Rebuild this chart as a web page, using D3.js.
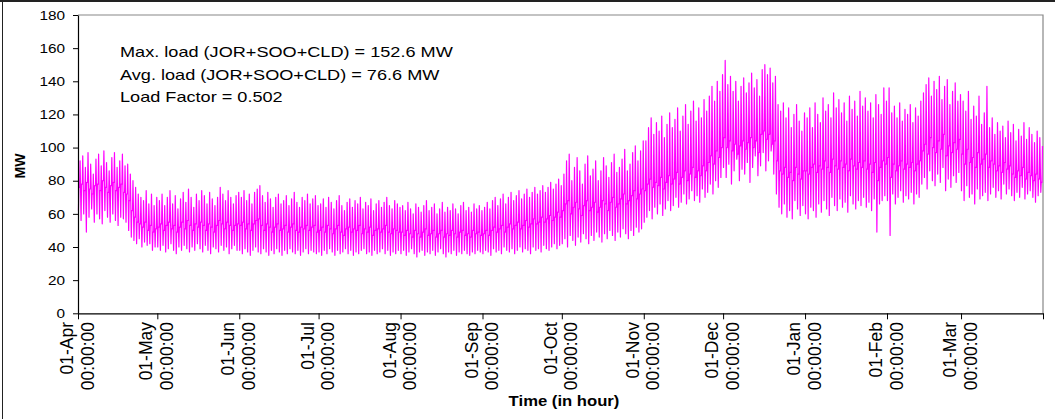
<!DOCTYPE html>
<html><head><meta charset="utf-8">
<script src="https://cdn.jsdelivr.net/npm/d3@7"></script>
<style>body{margin:0;background:#fff}svg{display:block}text{font-family:"Liberation Sans",Arial,sans-serif;fill:#000}</style>
</head><body><svg id="c" width="1055" height="419"></svg>
<script>
const monthLabels = ["01-Apr","01-May","01-Jun","01-Jul","01-Aug","01-Sep","01-Oct","01-Nov","01-Dec","01-Jan","01-Feb","01-Mar"];
const monthDays = [30,31,30,31,31,30,31,30,31,31,28,31];
const yTicks = [0,20,40,60,80,100,120,140,160,180];
const notes = ["Max. load (JOR+SOO+CLD) = 152.6 MW","Avg. load (JOR+SOO+CLD) = 76.6 MW","Load Factor = 0.502"];

// daily peak (MW), month by month
const maxApr = [92,95,88,97,90,84,93,96,89,98,91,86,94,97,88,92,96,89,90,84,80,76,72,70,68,74,66,72,65,70];
const maxMay = [68,72,65,70,74,66,71,63,69,73,67,75,70,64,72,68,74,71,66,73,69,65,70,76,72,68,74,70,66,71,73];
const maxJun = [70,74,68,72,66,73,75,77,71,67,73,69,64,70,72,66,68,71,65,69,73,67,64,70,68,72,66,69,71,65];
const maxJul = [66,69,64,70,67,63,68,71,65,62,67,69,64,68,66,70,63,67,65,69,62,66,68,64,67,70,65,63,68,66,64];
const maxAug = [65,62,67,63,60,66,64,61,65,68,62,64,66,60,63,67,61,64,62,66,63,60,65,67,62,64,61,66,63,65,62];
const maxSep = [64,67,63,68,70,65,69,72,66,70,73,68,71,74,69,72,75,70,73,76,72,74,77,73,76,79,75,78,81,77];
const maxOct = [84,92,96,80,88,94,86,78,90,95,83,87,92,80,86,94,89,82,91,96,85,88,93,99,86,90,97,101,92,98,104];
const maxNov = [104,112,118,108,115,110,119,106,114,121,112,117,124,110,119,126,114,122,128,116,124,118,129,122,131,137,128,140,134,144];
const maxDec = [152.6,138,143,134,140,128,137,142,133,139,145,136,141,131,147,150,144,148,139,143,126,122,127,118,124,112,120,126,116,110,121];
const maxJan = [118,124,112,127,120,115,130,122,126,118,133,124,129,121,127,116,131,123,128,119,134,125,130,122,127,118,132,126,120,136,128];
const maxFeb = [136,121,125,118,127,116,123,120,126,115,124,119,128,133,138,142,131,140,135,143,129,137,141,126,134,139,128,132];
const maxMar = [128,122,134,117,125,119,131,114,121,137,112,118,108,115,110,113,106,116,109,114,104,111,107,115,105,112,108,103,110,106,101];

// daily daytime level (MW), month by month
const midApr = [76,78,74,79,75,72,77,78,74,80,76,73,77,79,74,76,78,73,72,68,62,58,55,54,52,55,50,53,49,51];
const midMay = [52,54,50,53,55,51,53,49,52,55,51,56,53,50,54,52,55,53,50,54,52,49,53,56,54,51,55,53,50,53,54];
const midJun = [53,55,51,54,50,54,56,57,53,50,54,52,49,52,54,50,51,53,49,52,54,50,49,52,51,53,50,52,53,49];
const midJul = [50,52,49,53,51,48,51,53,49,47,51,52,49,51,50,53,48,51,49,52,47,50,51,49,51,53,49,48,51,50,49];
const midAug = [49,47,50,48,46,50,48,46,49,51,47,48,50,46,48,50,46,48,47,50,48,46,49,50,47,48,46,50,48,49,47];
const midSep = [48,50,47,50,52,49,51,53,49,52,54,51,53,55,51,53,56,52,54,57,54,55,58,55,57,59,56,58,61,58];
const midOct = [62,66,68,60,64,67,63,59,65,68,62,64,67,61,64,68,66,62,67,70,64,66,69,72,66,68,71,74,69,72,75];
const midNov = [74,78,81,76,79,77,82,75,79,83,78,81,85,78,82,86,80,84,88,82,86,83,89,86,91,95,90,98,94,100];
const midDec = [106,100,104,98,102,96,101,104,99,103,106,100,104,97,108,110,105,108,102,104,92,86,84,88,82,85,80,88,84,81,86];
const midJan = [86,84,88,90,85,89,87,92,88,85,93,89,87,92,88,90,86,93,89,87,91,88,92,87,90,85,91,80,88,92,90];
const midFeb = [94,82,90,86,89,92,87,90,88,91,86,90,92,98,102,96,106,100,97,104,99,108,95,101,97,103,99,105];
const midMar = [96,90,99,91,94,88,97,90,93,96,88,92,90,86,89,85,91,87,89,84,82,86,83,88,81,85,83,80,84,81,79];

// daily minimum (MW), month by month
const minApr = [62,56,60,49,58,63,55,60,57,54,62,58,55,60,56,53,58,57,55,50,46,44,42,45,40,43,41,42,38,40];
const minMay = [40,38,41,37,39,42,38,36,40,38,41,39,37,40,38,42,39,37,41,38,36,40,39,37,41,38,40,36,39,41,38];
const minJun = [38,36,39,37,35,38,40,37,36,39,37,35,38,36,39,37,35,38,36,39,37,36,38,35,37,39,36,38,37,36];
const minJul = [37,35,38,36,39,37,35,38,36,37,39,36,38,35,37,36,38,39,36,37,35,38,36,37,39,36,38,35,37,36,38];
const minAug = [36,38,35,37,39,36,34,37,38,35,37,36,38,35,37,39,36,34,37,36,38,35,37,36,38,36,35,37,36,38,37];
const minSep = [36,38,37,35,39,37,38,36,40,38,37,39,36,38,40,37,39,38,36,40,38,39,37,41,39,38,40,42,39,41];
const minOct = [42,45,40,47,44,41,46,43,48,45,42,47,44,49,46,43,48,45,50,47,44,49,46,51,48,45,50,47,52,49,51];
const minNov = [55,58,62,57,64,60,66,59,63,68,62,65,70,64,67,72,66,69,74,68,71,67,75,70,73,78,72,80,76,82];
const minDec = [88,82,90,78,86,93,80,87,84,91,79,88,95,83,89,97,86,92,98,84,72,64,60,66,58,62,57,68,63,59,65];
const minJan = [60,57,64,62,58,66,61,68,63,59,70,65,62,69,64,67,61,71,66,63,68,65,70,64,67,62,69,49,66,68,71];
const minFeb = [68,47,72,66,70,74,67,71,69,73,66,72,70,78,82,75,86,80,77,84,79,88,74,81,76,83,79,85];
const minMar = [74,68,77,70,72,66,75,69,71,73,68,72,76,70,74,69,78,72,75,71,68,73,70,76,69,72,74,70,67,71,73];

const dailyMax = [].concat(maxApr,maxMay,maxJun,maxJul,maxAug,maxSep,maxOct,maxNov,maxDec,maxJan,maxFeb,maxMar);
const dailyMid = [].concat(midApr,midMay,midJun,midJul,midAug,midSep,midOct,midNov,midDec,midJan,midFeb,midMar);
const dailyMin = [].concat(minApr,minMay,minJun,minJul,minAug,minSep,minOct,minNov,minDec,minJan,minFeb,minMar);

const svg = d3.select("#c");
const W = 1055, H = 419;
const pL = 78, pR = 1043, pT = 15, pB = 313.3;
const totalHours = d3.sum(monthDays) * 24;

const x = d3.scaleLinear().domain([0, totalHours]).range([pL, pR]);
const y = d3.scaleLinear().domain([0, 180]).range([pB, pT]);

// chart frame
svg.append("line").attr("x1",0).attr("x2",W).attr("y1",1).attr("y2",1).attr("stroke","#222").attr("stroke-width",2);
svg.append("line").attr("x1",2.5).attr("x2",2.5).attr("y1",0).attr("y2",H).attr("stroke","#222").attr("stroke-width",1);

// plot area border (top, right)
svg.append("path").attr("d",`M${pL},${pT}H${pR}V${pB}`).attr("fill","none").attr("stroke","#888").attr("stroke-width",1.2);

// hourly-profile points per day: night minimum, daytime level, evening peak
const pts = [];
dailyMax.forEach((mx, d) => {
  pts.push([d*24 + 4, dailyMin[d]]);
  pts.push([d*24 + 8, dailyMid[d]]);
  pts.push([d*24 + 15, dailyMid[d]]);
  pts.push([d*24 + 19, mx]);
});
const line = d3.line().x(p => x(p[0])).y(p => y(p[1]));
svg.append("path").datum(pts).attr("d", line).attr("fill","none").attr("stroke","#ff00ff").attr("stroke-width",1.2).attr("stroke-linejoin","round");

// y axis
const ya = svg.append("g").attr("transform",`translate(${pL},0)`)
  .call(d3.axisLeft(y).tickValues(yTicks).tickSize(5).tickSizeOuter(0).tickPadding(8));
ya.select(".domain").attr("stroke","#000").attr("stroke-width",1.2);
ya.selectAll(".tick line").attr("stroke","#000");
ya.selectAll(".tick text").attr("font-size",13).attr("font-family","Liberation Sans, Arial, sans-serif")
  .attr("x",-13/1.18).attr("transform","scale(1.18,1)");

// x axis
const monthStarts = [0];
monthDays.forEach((d,i) => monthStarts.push(monthStarts[i] + d*24));
const xa = svg.append("g").attr("transform",`translate(0,${pB})`)
  .call(d3.axisBottom(x).tickValues(monthStarts).tickSize(6).tickSizeOuter(0).tickFormat(""));
xa.select(".domain").attr("stroke","#000").attr("stroke-width",1.2);
xa.selectAll(".tick line").attr("stroke","#000");

const lab = svg.append("g").selectAll("g").data(monthLabels).join("g")
  .attr("transform",(d,i) => `translate(${x(monthStarts[i])},322) rotate(-90)`);
lab.append("text").attr("text-anchor","end").attr("x",0).attr("y",-5).attr("font-size",17.5).text(d => d);
lab.append("text").attr("text-anchor","end").attr("x",0).attr("y",15.5).attr("font-size",17.5).text("00:00:00");

// axis titles
svg.append("text").attr("transform","translate(564,406) scale(1.15,1)").attr("text-anchor","middle").attr("font-weight","bold").attr("font-size",14.5).text("Time (in hour)");
svg.append("text").attr("transform","translate(25,166) rotate(-90)").attr("text-anchor","middle").attr("font-weight","bold").attr("font-size",14).text("MW");

// notes
svg.append("g").selectAll("text").data(notes).join("text")
  .attr("transform",(d,i) => `translate(120,${57 + i*22.5}) scale(1.25,1)`)
  .attr("font-size",14.5).text(d => d);
</script></body></html>
